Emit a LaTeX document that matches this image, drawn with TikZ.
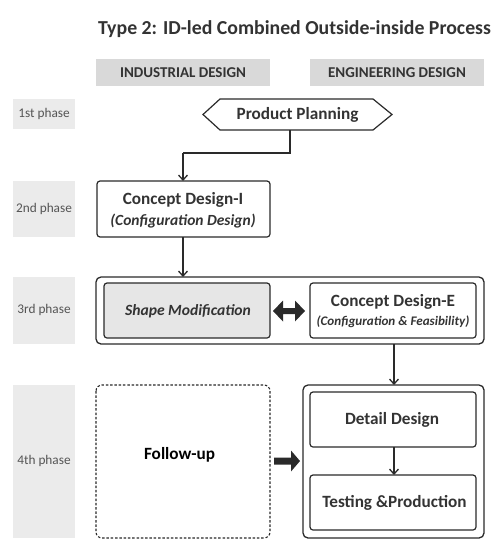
\documentclass[tikz,border=0pt]{standalone}
\usepackage{fontspec}
\setmainfont{Carlito}
\usetikzlibrary{arrows.meta,shapes.misc}
\definecolor{txt}{HTML}{333333}
\definecolor{phtxt}{HTML}{555555}
\definecolor{phbg}{HTML}{EBEBEB}
\definecolor{hdbg}{HTML}{D9D9D9}
\definecolor{smbg}{HTML}{E6E6E6}
\definecolor{ln}{HTML}{2A2A2A}
\begin{document}
\begin{tikzpicture}[x=1pt,y=-1pt,
  ibox/.style={draw=ln,line width=1.2pt,rounded corners=3pt},
  obox/.style={draw=ln,line width=1.3pt,rounded corners=5pt},
  conn/.style={draw=ln,line width=1.5pt,-{Straight Barb[length=5pt,width=9pt,line width=1.3pt]}},
  bigtxt/.style={font=\bfseries\fontsize{17.2}{19}\selectfont,text=txt},
  headtxt/.style={font=\bfseries\fontsize{15}{17}\selectfont,text=txt},
  phtext/.style={font=\fontsize{13.3}{15}\selectfont,text=phtxt}
]
\useasboundingbox (0,0) rectangle (503,546);
% title
\node[font=\bfseries\fontsize{19.8}{22}\selectfont,text=txt] (title) at (294.5,29.5) {Type 2: ID-led Combined Outside-inside Process};
% headers
\fill[hdbg] (96,59) rectangle (270,86);
\node[headtxt] (hid) at (183,72.5) {INDUSTRIAL DESIGN};
\fill[hdbg] (310,59) rectangle (484,86);
\node[headtxt] (hed) at (397,72.5) {ENGINEERING DESIGN};
% phase labels
\fill[phbg] (13,99) rectangle (75,129);
\node[phtext] (p1) at (44,114) {1st phase};
\fill[phbg] (13,181) rectangle (75,237);
\node[phtext] (p2) at (44,209) {2nd phase};
\fill[phbg] (13,277) rectangle (75,344);
\node[phtext] (p3) at (44,310) {3rd phase};
\fill[phbg] (13,385) rectangle (75,538);
\node[phtext] (p4) at (44,461) {4th phase};
% product planning hexagon
\draw[draw=ln,line width=1.2pt,fill=white] (203,114.5) -- (220,99) -- (373,99) -- (392,114.5) -- (373,130) -- (220,130) -- cycle;
\node[bigtxt] (pp) at (297.5,115) {Product Planning};
\coordinate (ppb) at (290,130);
% concept design I
\draw[ibox] (97,181) rectangle (270,237);
\node[bigtxt] (cdit) at (183,200) {Concept Design-I};
\node[font=\bfseries\itshape\fontsize{15.5}{17}\selectfont,text=txt] (cdis) at (183,221) {(Configuration Design)};
\coordinate (cditop) at (183,181);
\draw[draw=ln,line width=2pt] (ppb) |- (183,153);
\draw[conn] (183,153) -- (cditop);
% phase 3
\draw[obox] (96,277) rectangle (484,344);
\draw[ibox,fill=smbg] (104,283) rectangle (270,338);
\node[font=\bfseries\itshape\fontsize{15.6}{17}\selectfont,text=txt] (sm) at (188,311) {Shape Modification};
\draw[ibox] (310,283) rectangle (476,338);
\node[bigtxt] (cde) at (393,302) {Concept Design-E};
\node[font=\bfseries\itshape\fontsize{13.1}{15}\selectfont,text=txt] (cdes) at (393,322) {(Configuration \& Feasibility)};
\coordinate (cdibot) at (183,237);
\coordinate (p3top) at (183,277);
\draw[conn] (cdibot) -- (p3top);
% double arrow
\fill[ln] (273,311) -- (283,300.5) -- (283,308) -- (295,308) -- (295,300.5) -- (305,311) -- (295,321.5) -- (295,314) -- (283,314) -- (283,321.5) -- cycle;
% phase 4
\coordinate (cdebot) at (394,344);
\coordinate (p4top) at (394,385);
\draw[conn] (cdebot) -- (p4top);
\draw[obox] (303,385) rectangle (484,538);
\draw[ibox] (310,392) rectangle (476,447);
\node[bigtxt] (dd) at (392,419.5) {Detail Design};
\draw[ibox] (310,475) rectangle (476,530);
\node[bigtxt] (tp) at (394.5,503) {Testing \&Production};
\coordinate (ddbot) at (394,447);
\coordinate (tptop) at (394,475);
\draw[conn] (ddbot) -- (tptop);
% follow up
\draw[draw=ln,line width=1.1pt,dash pattern=on 2.5pt off 1.8pt,rounded corners=6pt] (96,385) rectangle (270,538);
\node[bigtxt,text=black] (fu) at (179.5,455) {Follow-up};
\fill[ln] (274,457.5) -- (291,457.5) -- (291,450.5) -- (300,461) -- (291,471.5) -- (291,464.5) -- (274,464.5) -- cycle;
\end{tikzpicture}
\end{document}
